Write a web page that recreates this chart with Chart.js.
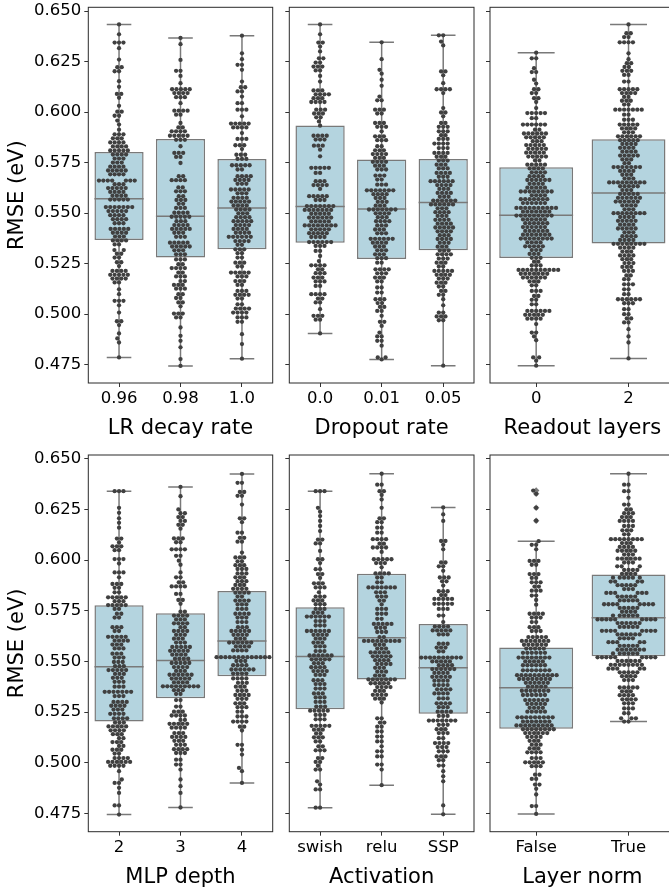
<!DOCTYPE html>
<html><head><meta charset="utf-8">
<script src="https://cdn.jsdelivr.net/npm/chart.js@4.4.1/dist/chart.umd.min.js"></script>
<style>
html,body{margin:0;padding:0;background:#fff;width:669px;height:888px;overflow:hidden;position:relative;}
canvas{position:absolute;}
</style></head><body>
<canvas id="c1"></canvas><canvas id="c2"></canvas><canvas id="c3"></canvas>
<canvas id="c4"></canvas><canvas id="c5"></canvas><canvas id="c6"></canvas>
<script>
// ---------------- DATA ----------------
const yTickValues = [0.475, 0.500, 0.525, 0.550, 0.575, 0.600, 0.625, 0.650];

// box stats: [min(whisker), q1, median, q3, max(whisker)]
const lrDecayCats = ['0.96', '0.98', '1.0'];
const lrDecayBox = [[0.4786,0.5367,0.5571,0.5803,0.6434],[0.4744,0.5281,0.5484,0.5867,0.6367],[0.4780,0.5321,0.5526,0.5768,0.6378]];
const dropoutCats = ['0.0', '0.01', '0.05'];
const dropoutBox = [[0.4905,0.5354,0.5533,0.5934,0.6434],[0.4776,0.5273,0.5521,0.5765,0.6345],[0.4745,0.5316,0.5553,0.5768,0.6380]];
const readoutCats = ['0', '2'];
const readoutBox = [[0.4745,0.5278,0.5489,0.5727,0.6294],[0.4781,0.5350,0.5600,0.5865,0.6434]];
const mlpCats = ['2', '3', '4'];
const mlpBox = [[0.4744,0.5203,0.5473,0.5777,0.6340],[0.4779,0.5318,0.5504,0.5738,0.6361],[0.4900,0.5427,0.5600,0.5847,0.6425]];
const activationCats = ['swish', 'relu', 'SSP'];
const activationBox = [[0.4778,0.5264,0.5524,0.5767,0.6340],[0.4889,0.5411,0.5617,0.5932,0.6426],[0.4745,0.5241,0.5468,0.5684,0.6260]];
const layerNormCats = ['False', 'True'];
const layerNormBox = [[0.4747,0.5167,0.5370,0.5568,0.6093],[0.5203,0.5525,0.5715,0.5929,0.6426]];
const layerNormFliers = [[0.6343,0.6327,0.6258,0.6194],[]];

// swarm points: [RMSE value, number of runs at that value]
const lr096 = [[0.6434,1],[0.6385,1],[0.6344,3],[0.6316,1],[0.6260,1],[0.6222,2],[0.6202,2],[0.6153,1],[0.6125,1],[0.6090,2],[0.6071,1],[0.6031,1],[0.6002,2],[0.5982,2],[0.5958,1],[0.5938,1],[0.5913,1],[0.5890,3],[0.5870,3],[0.5850,4],[0.5830,4],[0.5810,5],[0.5790,4],[0.5770,3],[0.5750,3],[0.5730,4],[0.5711,5],[0.5692,4],[0.5661,7],[0.5643,3],[0.5624,5],[0.5605,4],[0.5586,4],[0.5567,5],[0.5530,7],[0.5510,5],[0.5490,4],[0.5470,4],[0.5450,3],[0.5422,5],[0.5403,4],[0.5384,3],[0.5365,4],[0.5345,2],[0.5317,2],[0.5299,2],[0.5280,2],[0.5257,2],[0.5238,1],[0.5214,4],[0.5195,5],[0.5176,4],[0.5157,2],[0.5123,1],[0.5099,1],[0.5066,3],[0.5044,1],[0.5008,1],[0.4965,2],[0.4946,1],[0.4905,1],[0.4880,1],[0.4860,1],[0.4786,1]];
const lr098 = [[0.6367,1],[0.6336,1],[0.6258,1],[0.6204,2],[0.6179,1],[0.6143,1],[0.6113,5],[0.6094,4],[0.6074,3],[0.6044,1],[0.6007,4],[0.5987,2],[0.5946,1],[0.5924,2],[0.5905,4],[0.5883,5],[0.5863,3],[0.5831,1],[0.5798,3],[0.5778,2],[0.5748,1],[0.5683,2],[0.5663,4],[0.5627,2],[0.5608,3],[0.5584,2],[0.5565,3],[0.5546,2],[0.5526,3],[0.5502,4],[0.5482,5],[0.5460,3],[0.5441,4],[0.5422,5],[0.5403,3],[0.5383,3],[0.5354,5],[0.5335,5],[0.5316,3],[0.5296,3],[0.5271,3],[0.5247,2],[0.5228,4],[0.5206,2],[0.5187,3],[0.5164,2],[0.5145,3],[0.5126,3],[0.5099,2],[0.5080,2],[0.5058,2],[0.5039,1],[0.5003,3],[0.4984,2],[0.4934,1],[0.4893,1],[0.4868,1],[0.4836,1],[0.4778,1],[0.4744,1]];
const lr100 = [[0.6378,1],[0.6291,1],[0.6262,1],[0.6234,2],[0.6209,1],[0.6151,1],[0.6123,2],[0.6102,2],[0.6077,1],[0.6044,2],[0.6012,3],[0.5979,1],[0.5943,5],[0.5924,4],[0.5896,1],[0.5867,3],[0.5836,3],[0.5817,1],[0.5789,3],[0.5768,3],[0.5737,5],[0.5716,2],[0.5683,4],[0.5664,4],[0.5645,3],[0.5617,5],[0.5598,3],[0.5576,4],[0.5557,5],[0.5538,4],[0.5518,4],[0.5499,3],[0.5480,4],[0.5460,5],[0.5441,4],[0.5422,4],[0.5403,4],[0.5383,6],[0.5362,4],[0.5343,2],[0.5321,3],[0.5302,2],[0.5280,2],[0.5255,3],[0.5236,2],[0.5206,5],[0.5187,3],[0.5164,3],[0.5145,2],[0.5115,3],[0.5096,4],[0.5077,2],[0.5049,2],[0.5028,4],[0.5008,4],[0.4984,3],[0.4962,2],[0.4901,1],[0.4852,1],[0.4780,1]];

const drop000 = [[0.6434,1],[0.6385,1],[0.6344,2],[0.6324,1],[0.6300,1],[0.6266,2],[0.6245,2],[0.6225,3],[0.6206,2],[0.6179,1],[0.6151,1],[0.6107,3],[0.6088,4],[0.6069,3],[0.6050,4],[0.6012,3],[0.5993,3],[0.5974,2],[0.5954,1],[0.5933,1],[0.5883,4],[0.5864,3],[0.5834,3],[0.5814,1],[0.5781,1],[0.5724,5],[0.5699,2],[0.5658,3],[0.5639,4],[0.5620,1],[0.5584,5],[0.5565,3],[0.5535,7],[0.5516,7],[0.5497,5],[0.5478,6],[0.5459,5],[0.5439,8],[0.5420,5],[0.5401,5],[0.5382,4],[0.5357,6],[0.5338,3],[0.5313,2],[0.5288,1],[0.5263,1],[0.5242,4],[0.5222,2],[0.5203,3],[0.5181,3],[0.5162,3],[0.5140,2],[0.5099,4],[0.5077,2],[0.5058,2],[0.5025,1],[0.4992,3],[0.4973,2],[0.4905,1]];
const drop001 = [[0.6345,1],[0.6262,1],[0.6209,1],[0.6190,1],[0.6160,1],[0.6130,1],[0.6077,1],[0.6058,2],[0.6012,3],[0.5993,2],[0.5946,3],[0.5927,3],[0.5905,1],[0.5880,3],[0.5861,3],[0.5831,2],[0.5811,3],[0.5792,4],[0.5773,3],[0.5754,4],[0.5735,3],[0.5716,3],[0.5686,3],[0.5666,2],[0.5641,3],[0.5613,7],[0.5594,4],[0.5575,3],[0.5556,3],[0.5537,3],[0.5518,7],[0.5499,4],[0.5480,3],[0.5460,4],[0.5439,3],[0.5419,3],[0.5400,3],[0.5373,6],[0.5354,4],[0.5335,3],[0.5316,3],[0.5296,3],[0.5277,3],[0.5255,2],[0.5222,4],[0.5202,3],[0.5181,3],[0.5162,2],[0.5132,2],[0.5107,2],[0.5074,3],[0.5055,2],[0.5036,2],[0.5016,2],[0.4992,1],[0.4962,2],[0.4942,1],[0.4909,1],[0.4890,2],[0.4868,2],[0.4844,1],[0.4786,2],[0.4776,1]];
const drop005 = [[0.6380,2],[0.6349,1],[0.6330,1],[0.6201,2],[0.6182,1],[0.6143,1],[0.6113,4],[0.6094,1],[0.6020,1],[0.5998,2],[0.5979,1],[0.5946,2],[0.5927,3],[0.5905,3],[0.5886,2],[0.5867,3],[0.5844,4],[0.5822,3],[0.5798,4],[0.5779,3],[0.5760,3],[0.5740,3],[0.5721,3],[0.5699,4],[0.5680,3],[0.5658,6],[0.5639,4],[0.5620,3],[0.5600,4],[0.5581,3],[0.5562,6],[0.5543,6],[0.5524,3],[0.5505,4],[0.5486,3],[0.5467,4],[0.5448,4],[0.5429,5],[0.5410,4],[0.5391,3],[0.5372,4],[0.5353,3],[0.5334,3],[0.5315,3],[0.5296,4],[0.5275,3],[0.5255,3],[0.5236,2],[0.5214,5],[0.5195,4],[0.5176,3],[0.5156,3],[0.5137,2],[0.5115,2],[0.5096,2],[0.5074,1],[0.5044,1],[0.5008,2],[0.4989,3],[0.4970,2],[0.4745,1]];

const read0 = [[0.6294,1],[0.6266,2],[0.6217,1],[0.6198,2],[0.6160,1],[0.6141,1],[0.6113,2],[0.6094,2],[0.6069,2],[0.6050,1],[0.6020,1],[0.5995,5],[0.5970,2],[0.5938,6],[0.5913,2],[0.5894,6],[0.5875,5],[0.5856,3],[0.5837,5],[0.5818,5],[0.5799,5],[0.5780,5],[0.5761,2],[0.5740,5],[0.5721,4],[0.5702,4],[0.5683,4],[0.5664,6],[0.5645,4],[0.5626,5],[0.5607,8],[0.5588,4],[0.5569,7],[0.5550,6],[0.5526,10],[0.5507,7],[0.5488,9],[0.5469,6],[0.5450,6],[0.5431,6],[0.5412,6],[0.5393,7],[0.5374,8],[0.5355,4],[0.5336,5],[0.5317,3],[0.5298,3],[0.5279,3],[0.5260,2],[0.5241,3],[0.5219,10],[0.5200,7],[0.5181,6],[0.5162,3],[0.5143,2],[0.5115,3],[0.5090,2],[0.5071,2],[0.5049,2],[0.5016,6],[0.4997,5],[0.4978,4],[0.4951,1],[0.4909,2],[0.4890,1],[0.4871,1],[0.4786,2],[0.4770,1],[0.4745,1]];
const read2 = [[0.6434,1],[0.6390,2],[0.6371,2],[0.6345,4],[0.6291,1],[0.6262,1],[0.6242,2],[0.6223,2],[0.6204,3],[0.6184,2],[0.6151,2],[0.6113,5],[0.6094,4],[0.6075,2],[0.6056,3],[0.6037,2],[0.6012,7],[0.5987,2],[0.5962,3],[0.5938,5],[0.5919,4],[0.5900,3],[0.5880,6],[0.5861,5],[0.5842,4],[0.5823,4],[0.5804,4],[0.5785,5],[0.5766,3],[0.5747,2],[0.5728,7],[0.5709,4],[0.5690,3],[0.5671,3],[0.5652,9],[0.5633,5],[0.5614,3],[0.5595,5],[0.5576,6],[0.5557,6],[0.5538,4],[0.5519,3],[0.5500,8],[0.5481,4],[0.5462,5],[0.5443,4],[0.5424,5],[0.5405,3],[0.5386,4],[0.5367,4],[0.5348,8],[0.5329,4],[0.5310,3],[0.5291,4],[0.5272,3],[0.5253,3],[0.5234,3],[0.5214,3],[0.5192,2],[0.5173,2],[0.5148,3],[0.5123,2],[0.5099,2],[0.5074,6],[0.5054,3],[0.5025,2],[0.5000,2],[0.4979,2],[0.4959,2],[0.4926,1],[0.4890,1],[0.4860,1],[0.4781,1]];

const mlp2 = [[0.6340,3],[0.6258,1],[0.6233,1],[0.6206,1],[0.6184,1],[0.6160,1],[0.6106,2],[0.6087,1],[0.6068,3],[0.6049,2],[0.6005,3],[0.5983,1],[0.5939,3],[0.5915,1],[0.5882,3],[0.5863,2],[0.5841,2],[0.5816,5],[0.5797,3],[0.5778,5],[0.5759,2],[0.5735,2],[0.5716,2],[0.5669,3],[0.5650,2],[0.5621,5],[0.5602,4],[0.5583,3],[0.5564,3],[0.5538,3],[0.5519,3],[0.5497,3],[0.5476,3],[0.5457,5],[0.5438,3],[0.5419,3],[0.5399,3],[0.5375,3],[0.5350,7],[0.5329,3],[0.5300,4],[0.5281,4],[0.5262,3],[0.5241,4],[0.5219,4],[0.5198,3],[0.5179,5],[0.5160,4],[0.5141,3],[0.5121,2],[0.5102,3],[0.5083,2],[0.5064,3],[0.5045,2],[0.5023,4],[0.5004,6],[0.4985,4],[0.4958,1],[0.4917,1],[0.4900,2],[0.4876,1],[0.4851,1],[0.4789,2],[0.4744,1]];
const mlp3 = [[0.6361,1],[0.6315,1],[0.6250,1],[0.6231,2],[0.6212,2],[0.6193,2],[0.6174,2],[0.6155,1],[0.6107,3],[0.6088,2],[0.6053,4],[0.6021,2],[0.5997,1],[0.5977,1],[0.5939,1],[0.5915,2],[0.5890,2],[0.5870,4],[0.5833,2],[0.5803,2],[0.5784,1],[0.5745,2],[0.5726,4],[0.5707,3],[0.5688,4],[0.5669,2],[0.5650,4],[0.5631,3],[0.5612,3],[0.5593,3],[0.5571,5],[0.5552,5],[0.5533,4],[0.5513,4],[0.5492,5],[0.5472,4],[0.5453,3],[0.5434,6],[0.5415,5],[0.5396,4],[0.5377,9],[0.5358,3],[0.5339,2],[0.5309,2],[0.5277,2],[0.5252,3],[0.5233,4],[0.5211,2],[0.5192,5],[0.5173,4],[0.5146,3],[0.5127,4],[0.5108,3],[0.5088,3],[0.5067,4],[0.5048,3],[0.5015,2],[0.4991,2],[0.4966,1],[0.4917,1],[0.4884,1],[0.4851,1],[0.4779,1]];
const mlp4 = [[0.6425,1],[0.6381,2],[0.6336,2],[0.6317,2],[0.6274,1],[0.6206,2],[0.6187,1],[0.6135,2],[0.6110,2],[0.6091,2],[0.6037,1],[0.6013,3],[0.5994,2],[0.5975,3],[0.5956,3],[0.5934,3],[0.5915,3],[0.5896,3],[0.5877,3],[0.5858,4],[0.5839,4],[0.5820,2],[0.5800,4],[0.5781,3],[0.5759,3],[0.5735,4],[0.5716,3],[0.5694,3],[0.5669,3],[0.5650,5],[0.5631,4],[0.5612,3],[0.5593,6],[0.5574,4],[0.5554,4],[0.5521,13],[0.5502,3],[0.5481,4],[0.5460,6],[0.5440,4],[0.5416,4],[0.5394,3],[0.5375,3],[0.5355,3],[0.5334,4],[0.5315,3],[0.5293,3],[0.5274,3],[0.5252,2],[0.5228,3],[0.5203,4],[0.5178,2],[0.5159,1],[0.5088,2],[0.5064,1],[0.5040,1],[0.4974,1],[0.4958,1],[0.4900,1]];

const actSwish = [[0.6340,3],[0.6258,1],[0.6239,1],[0.6217,1],[0.6193,1],[0.6168,1],[0.6143,1],[0.6101,2],[0.6082,2],[0.6045,1],[0.6004,2],[0.5985,1],[0.5955,2],[0.5931,2],[0.5912,1],[0.5885,3],[0.5865,3],[0.5841,1],[0.5820,3],[0.5801,3],[0.5782,3],[0.5759,3],[0.5740,3],[0.5721,6],[0.5699,3],[0.5677,3],[0.5650,6],[0.5631,4],[0.5612,3],[0.5593,3],[0.5574,3],[0.5551,3],[0.5529,6],[0.5510,5],[0.5491,3],[0.5471,4],[0.5452,4],[0.5433,3],[0.5407,3],[0.5388,3],[0.5366,3],[0.5342,3],[0.5322,3],[0.5300,3],[0.5277,3],[0.5257,5],[0.5236,3],[0.5214,3],[0.5182,5],[0.5163,3],[0.5144,2],[0.5125,3],[0.5105,2],[0.5081,2],[0.5061,3],[0.5023,2],[0.5004,2],[0.4985,1],[0.4966,2],[0.4908,1],[0.4892,1],[0.4868,2],[0.4778,2]];
const actRelu = [[0.6426,1],[0.6372,2],[0.6340,2],[0.6321,1],[0.6299,1],[0.6258,1],[0.6206,2],[0.6187,2],[0.6160,2],[0.6135,2],[0.6103,4],[0.6081,2],[0.6062,4],[0.6040,1],[0.6004,5],[0.5985,3],[0.5964,1],[0.5934,4],[0.5914,2],[0.5890,2],[0.5865,7],[0.5841,3],[0.5820,3],[0.5800,2],[0.5781,1],[0.5759,3],[0.5735,3],[0.5710,2],[0.5685,5],[0.5666,3],[0.5645,3],[0.5620,2],[0.5601,9],[0.5582,3],[0.5563,3],[0.5544,5],[0.5525,5],[0.5506,4],[0.5487,4],[0.5468,3],[0.5449,3],[0.5430,3],[0.5411,7],[0.5392,5],[0.5373,4],[0.5354,3],[0.5335,4],[0.5316,3],[0.5297,1],[0.5219,2],[0.5198,2],[0.5178,2],[0.5154,2],[0.5129,2],[0.5105,2],[0.5081,1],[0.5056,2],[0.5031,2],[0.4991,2],[0.4966,1],[0.4889,1]];
const actSSP = [[0.6260,1],[0.6225,1],[0.6193,1],[0.6094,2],[0.6075,1],[0.6053,1],[0.5988,2],[0.5969,2],[0.5947,1],[0.5914,3],[0.5895,2],[0.5874,1],[0.5846,3],[0.5827,2],[0.5808,5],[0.5784,5],[0.5759,3],[0.5726,2],[0.5694,1],[0.5672,4],[0.5653,5],[0.5633,3],[0.5587,3],[0.5568,3],[0.5549,2],[0.5519,10],[0.5500,5],[0.5481,4],[0.5462,6],[0.5443,4],[0.5424,5],[0.5405,4],[0.5383,4],[0.5362,4],[0.5342,4],[0.5317,3],[0.5293,4],[0.5274,3],[0.5252,4],[0.5231,3],[0.5208,7],[0.5187,3],[0.5165,3],[0.5146,3],[0.5121,2],[0.5097,4],[0.5077,3],[0.5056,3],[0.5031,3],[0.5012,2],[0.4986,2],[0.4958,1],[0.4933,1],[0.4908,1],[0.4789,1],[0.4745,1]];

const lnFalse = [[0.6343,1],[0.6327,1],[0.6258,1],[0.6194,1],[0.6093,1],[0.6075,2],[0.6053,1],[0.5996,3],[0.5977,2],[0.5931,3],[0.5912,2],[0.5890,3],[0.5869,2],[0.5849,3],[0.5825,2],[0.5803,1],[0.5780,1],[0.5735,4],[0.5716,3],[0.5694,2],[0.5669,3],[0.5650,3],[0.5620,5],[0.5601,7],[0.5582,6],[0.5563,5],[0.5542,6],[0.5519,8],[0.5500,5],[0.5481,6],[0.5456,7],[0.5432,10],[0.5413,8],[0.5394,6],[0.5375,5],[0.5355,7],[0.5334,6],[0.5309,6],[0.5290,5],[0.5271,4],[0.5252,5],[0.5224,9],[0.5203,7],[0.5184,9],[0.5165,8],[0.5146,6],[0.5127,4],[0.5108,3],[0.5089,3],[0.5070,3],[0.5051,4],[0.5023,3],[0.5002,5],[0.4983,3],[0.4941,2],[0.4920,2],[0.4892,2],[0.4871,1],[0.4843,1],[0.4786,2],[0.4747,1]];
const lnTrue = [[0.6426,1],[0.6372,2],[0.6340,2],[0.6307,1],[0.6274,2],[0.6250,2],[0.6231,3],[0.6212,3],[0.6193,4],[0.6168,3],[0.6147,3],[0.6127,2],[0.6103,8],[0.6084,3],[0.6065,4],[0.6046,5],[0.6027,3],[0.6007,6],[0.5988,3],[0.5969,3],[0.5951,4],[0.5932,4],[0.5913,6],[0.5894,4],[0.5876,5],[0.5857,3],[0.5838,6],[0.5820,5],[0.5801,5],[0.5782,8],[0.5764,5],[0.5745,4],[0.5726,6],[0.5707,9],[0.5689,6],[0.5670,5],[0.5651,8],[0.5633,6],[0.5614,4],[0.5595,5],[0.5577,5],[0.5558,7],[0.5539,6],[0.5520,9],[0.5502,6],[0.5483,8],[0.5464,5],[0.5446,5],[0.5427,4],[0.5408,3],[0.5371,5],[0.5352,3],[0.5333,4],[0.5313,4],[0.5293,3],[0.5268,3],[0.5244,2],[0.5219,3],[0.5203,2]];

// ---------------- LAYOUT / STYLE ----------------
const FONT = 'DejaVu Sans';
const BOX_FILL = 'rgb(180,212,223)';
const BOX_EDGE = '#797979';
const DOT = '#404040';
const DOT_R = 2.15, SWARM_D = 4.4;
const panels = [
  {id:'c1', title:'LR decay rate', cats:lrDecayCats, box:lrDecayBox, rows:[lr096,lr098,lr100], fliers:[[],[],[]], yLabels:true,
   cv:{l:0,t:0,w:280,h:444}, pa:{l:88.3,t:7.3,r:272.7,b:383}, titleY:428.5},
  {id:'c2', title:'Dropout rate', cats:dropoutCats, box:dropoutBox, rows:[drop000,drop001,drop005], fliers:[[],[],[]], yLabels:false,
   cv:{l:280,t:0,w:200,h:444}, pa:{l:289.3,t:7.3,r:474,b:383}, titleY:428.5},
  {id:'c3', title:'Readout layers', cats:readoutCats, box:readoutBox, rows:[read0,read2], fliers:[[],[]], yLabels:false,
   cv:{l:480,t:0,w:200,h:444}, pa:{l:490,t:7.3,r:674.7,b:383}, titleY:428.5},
  {id:'c4', title:'MLP depth', cats:mlpCats, box:mlpBox, rows:[mlp2,mlp3,mlp4], fliers:[[],[],[]], yLabels:true,
   cv:{l:0,t:444,w:280,h:450}, pa:{l:88.3,t:455,r:272.7,b:831.7}, titleY:877.2},
  {id:'c5', title:'Activation', cats:activationCats, box:activationBox, rows:[actSwish,actRelu,actSSP], fliers:[[],[],[]], yLabels:false,
   cv:{l:280,t:444,w:200,h:450}, pa:{l:289.3,t:455,r:474,b:831.7}, titleY:877.2},
  {id:'c6', title:'Layer norm', cats:layerNormCats, box:layerNormBox, rows:[lnFalse,lnTrue], fliers:layerNormFliers, yLabels:false,
   cv:{l:480,t:444,w:200,h:450}, pa:{l:490,t:455,r:674.7,b:831.7}, titleY:877.2}
];

// shared y range (matplotlib-like 5% margins around all data)
let allVals = [];
panels.forEach(p => p.rows.forEach(r => r.forEach(([v]) => allVals.push(v))));
const dMin = Math.min(...allVals), dMax = Math.max(...allVals);
const yMin = dMin - 0.05 * (dMax - dMin), yMax = dMax + 0.05 * (dMax - dMin);

const framePlugin = {
  id: 'frame',
  afterDraw(chart) {
    const {ctx, chartArea: a} = chart;
    ctx.save();
    ctx.strokeStyle = '#2b2b2b';
    ctx.lineWidth = 1;
    ctx.strokeRect(a.left, a.top, a.right - a.left, a.bottom - a.top);
    ctx.restore();
  }
};

function swarmLayout(chart, p) {
  const xs = chart.scales.x, ys = chart.scales.y;
  const d = SWARM_D;
  const out = [];
  p.rows.forEach((rows, i) => {
    const vals = [];
    rows.forEach(([v, n]) => { for (let k = 0; k < n; k++) vals.push(v); });
    const cx = xs.getPixelForValue(i);
    const pts = vals.map(v => ({v, y: ys.getPixelForValue(v)})).sort((a, b) => b.y - a.y);
    const placed = [];
    for (const pt of pts) {
      const neigh = placed.filter(q => Math.abs(q.y - pt.y) < d);
      const cands = [0];
      for (const q of neigh) {
        const dy = q.y - pt.y;
        const dx = Math.sqrt(d * d - dy * dy);
        cands.push(q.x + dx, q.x - dx);
      }
      cands.sort((a, b) => (Math.abs(a) - Math.abs(b)) || (a - b));
      let best = 0;
      for (const c of cands) {
        if (neigh.every(q => (c - q.x) ** 2 + (q.y - pt.y) ** 2 >= d * d - 1e-6)) { best = c; break; }
      }
      placed.push({x: best, y: pt.y, v: pt.v});
    }
    placed.forEach(q => out.push({x: xs.getValueForPixel(cx + q.x), y: q.v}));
  });
  chart.data.datasets[0].data = out;
  chart.update('none');
}

function buildPanel(p) {
  const cv = document.getElementById(p.id);
  cv.width = p.cv.w; cv.height = p.cv.h;
  cv.style.left = p.cv.l + 'px'; cv.style.top = p.cv.t + 'px';
  cv.style.width = p.cv.w + 'px'; cv.style.height = p.cv.h + 'px';
  const n = p.cats.length;
  const titleSize = 21, titleLH = 1.2;

  const boxData = p.box.map((s, i) => ({x: i, y: [s[1], s[3]]}));
  const medData = [], whiskData = [];
  p.box.forEach((s, i) => {
    medData.push({x: i - 0.4, y: s[2]}, {x: i + 0.4, y: s[2]}, {x: i, y: null});
    whiskData.push({x: i, y: s[3]}, {x: i, y: s[4]}, {x: i, y: null});
    whiskData.push({x: i, y: s[1]}, {x: i, y: s[0]}, {x: i, y: null});
    whiskData.push({x: i - 0.2, y: s[4]}, {x: i + 0.2, y: s[4]}, {x: i, y: null});
    whiskData.push({x: i - 0.2, y: s[0]}, {x: i + 0.2, y: s[0]}, {x: i, y: null});
  });
  const flierData = [];
  p.fliers.forEach((arr, i) => arr.forEach(v => flierData.push({x: i, y: v})));
  const swarmInit = [];
  p.rows.forEach((rows, i) => rows.forEach(([v]) => swarmInit.push({x: i, y: v})));

  const chart = new Chart(cv, {
    type: 'scatter',
    data: {
      datasets: [
        {type: 'scatter', data: swarmInit, pointRadius: DOT_R, pointHoverRadius: DOT_R, backgroundColor: DOT, borderWidth: 0, order: 0},
        {type: 'scatter', data: flierData, pointStyle: 'rectRot', pointRadius: 3.2, backgroundColor: BOX_EDGE, borderWidth: 0, order: 1},
        {type: 'line', data: medData, borderColor: BOX_EDGE, borderWidth: 1.5, pointRadius: 0, spanGaps: false, fill: false, order: 2},
        {type: 'line', data: whiskData, borderColor: BOX_EDGE, borderWidth: 1.5, pointRadius: 0, spanGaps: false, fill: false, order: 3},
        {type: 'bar', data: boxData, backgroundColor: BOX_FILL, borderColor: BOX_EDGE, borderWidth: 1.5, borderSkipped: false,
         barPercentage: 0.8, categoryPercentage: 1.0, grouped: false, order: 4}
      ]
    },
    options: {
      responsive: false, animation: false, devicePixelRatio: 1,
      layout: {padding: {top: p.pa.t - p.cv.t, right: (p.cv.l + p.cv.w) - p.pa.r, left: 0, bottom: 0}},
      plugins: {legend: {display: false}, tooltip: {enabled: false}},
      events: [],
      scales: {
        x: {
          type: 'linear', min: -0.5, max: n - 0.5, offset: false,
          afterBuildTicks: s => { s.ticks = p.cats.map((c, i) => ({value: i})); },
          afterFit: s => { s.height = (p.cv.t + p.cv.h) - p.pa.b; s.paddingLeft = 0; s.paddingRight = 0; },
          ticks: {autoSkip: false, maxRotation: 0, padding: 2, color: '#000', font: {family: FONT, size: 16.5},
                  callback: (v, idx) => p.cats[idx]},
          grid: {display: true, drawOnChartArea: false, drawTicks: true, tickLength: 4, tickColor: '#333', offset: false},
          border: {display: false},
          title: {display: true, text: p.title, color: '#000', font: {family: FONT, size: titleSize, lineHeight: titleLH},
                  padding: {top: 0, bottom: (p.cv.t + p.cv.h) - p.titleY - titleSize * titleLH / 2}}
        },
        y: {
          type: 'linear', min: yMin, max: yMax, beginAtZero: false,
          afterBuildTicks: s => { s.ticks = yTickValues.map(v => ({value: v})); },
          afterFit: s => { s.width = p.pa.l - p.cv.l; s.paddingTop = 0; s.paddingBottom = 0; },
          ticks: {display: p.yLabels, padding: 3, color: '#000', font: {family: FONT, size: 16.5},
                  callback: v => Number(v).toFixed(3)},
          grid: {display: true, drawOnChartArea: false, drawTicks: true, tickLength: 4, tickColor: '#333'},
          border: {display: false},
          title: {display: p.yLabels, text: 'RMSE (eV)', color: '#000', font: {family: FONT, size: titleSize, lineHeight: titleLH},
                  padding: {top: 5.4, bottom: 0}}
        }
      }
    },
    plugins: [framePlugin]
  });
  swarmLayout(chart, p);
}

panels.forEach(buildPanel);
</script>
</body></html>
